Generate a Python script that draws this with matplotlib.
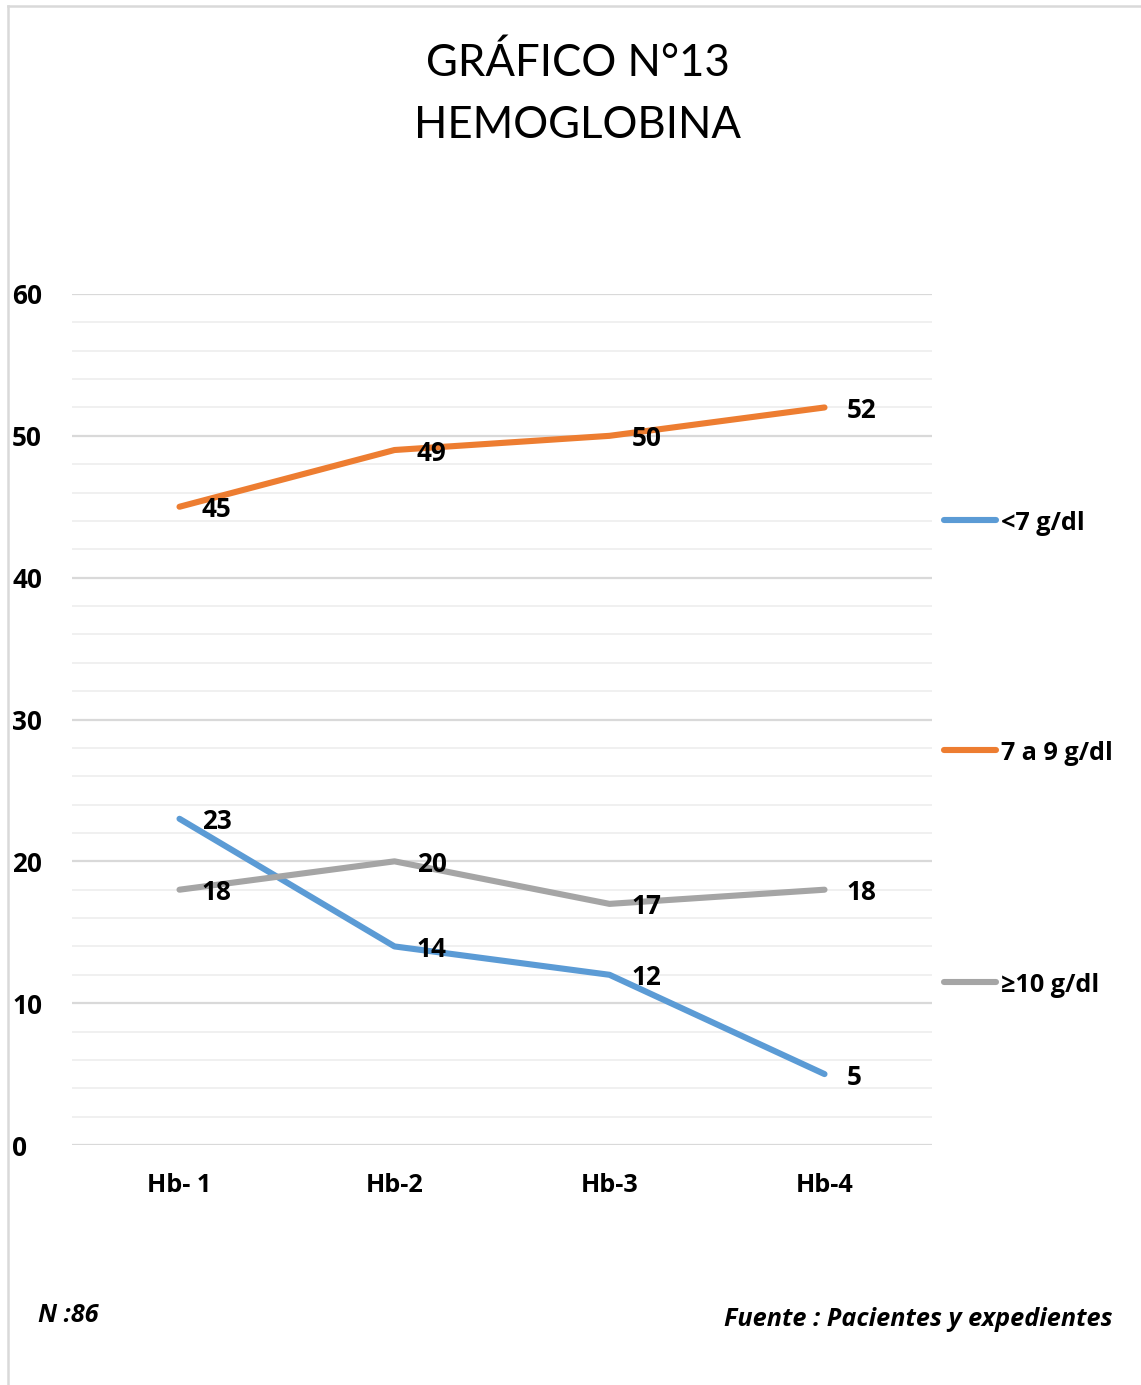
import matplotlib
matplotlib.use("Agg")
import matplotlib.pyplot as plt
from matplotlib.lines import Line2D

plt.rcParams['font.family'] = ['Open Sans', 'DejaVu Sans']
TITLE_FONT = ['Lato', 'DejaVu Sans']

categories = ["Hb- 1", "Hb-2", "Hb-3", "Hb-4"]
series_names = ["<7 g/dl", "7 a 9 g/dl", "≥10 g/dl"]
lt7 = [23, 14, 12, 5]
g7to9 = [45, 49, 50, 52]
ge10 = [18, 20, 17, 18]
colors = ["#5B9BD5", "#ED7D31", "#A5A5A5"]
y_ticks = [0, 10, 20, 30, 40, 50, 60]

FS = 18.2      # text labels
FS_NUM = 18.8  # numeric labels
LW = 4.4
DY = 3         # small downward nudge (px) so glyphs sit centred on their anchors

W, H = 1141, 1385
fig = plt.figure(figsize=(W / 100, H / 100), dpi=100)

# plot area in pixel coordinates
left, right, top, bottom = 72, 932, 294, 1145
ax = fig.add_axes([left / W, 1 - bottom / H, (right - left) / W, (bottom - top) / H])

x = list(range(len(categories)))
ax.set_xlim(-0.5, len(categories) - 0.5)
ax.set_ylim(0, 60)

# gridlines: light minor every 2, darker major every 10
for v in range(0, 61, 2):
    major = v % 10 == 0
    ax.axhline(v, color="#D9D9D9" if major else "#F0F0F0", lw=1.6 if major else 1.4,
               zorder=0.5 if major else 0.4)

for s in ax.spines.values():
    s.set_visible(False)
ax.tick_params(length=0)
ax.set_xticks(x)
ax.set_xticklabels(categories, fontsize=FS, fontweight="bold")
ax.set_yticks(y_ticks)
ax.set_yticklabels([str(t) for t in y_ticks], fontsize=FS_NUM, fontweight="bold")
for lab in ax.get_yticklabels():
    lab.set_horizontalalignment("left")
    lab.set_x(-(left - 17) / (right - left))
ax.tick_params(axis="x", pad=20)

px_to_pt = 72 / 100
for vals, c, name in zip([lt7, g7to9, ge10], colors, series_names):
    ax.plot(x, vals, color=c, lw=LW, solid_capstyle="round", solid_joinstyle="round",
            label=name, zorder=3)
    for xi, v in zip(x, vals):
        ax.annotate(str(v), (xi, v), xytext=(16, -DY * px_to_pt), textcoords="offset points",
                    ha="left", va="center", fontsize=FS_NUM, fontweight="bold", zorder=4)

# legend drawn at the right side
for name, c, ly in zip(series_names, colors, [520, 750, 982]):
    fy = 1 - ly / H
    fig.add_artist(Line2D([944 / W, 996 / W], [fy, fy], color=c, lw=LW,
                          solid_capstyle="round", transform=fig.transFigure))
    fig.text(1001 / W, fy - DY / H, name, ha="left", va="center", fontsize=FS,
             fontweight="bold")

# title
fig.text(578 / W, 1 - 63 / H, "GRÁFICO N°13", ha="center", va="center", fontsize=31.5,
         family=TITLE_FONT)
fig.text(578 / W, 1 - 126 / H, "HEMOGLOBINA", ha="center", va="center", fontsize=31.5,
         family=TITLE_FONT)

# footnotes
fig.text(38 / W, 1 - (1313 + DY) / H, "N :86", ha="left", va="center", fontsize=FS,
         fontweight="bold", style="italic")
fig.text(1113 / W, 1 - (1316 + DY) / H, "Fuente : Pacientes y expedientes", ha="right",
         va="center", fontsize=FS, fontweight="bold", style="italic")

# chart frame (left and top edges)
fig.add_artist(Line2D([8 / W, 8 / W], [0, 1 - 6 / H], color="#D9D9D9", lw=1.8,
                      transform=fig.transFigure))
fig.add_artist(Line2D([8 / W, 1], [1 - 6 / H, 1 - 6 / H], color="#D9D9D9", lw=1.8,
                      transform=fig.transFigure))

fig.savefig("out.png", dpi=100, facecolor="white")
